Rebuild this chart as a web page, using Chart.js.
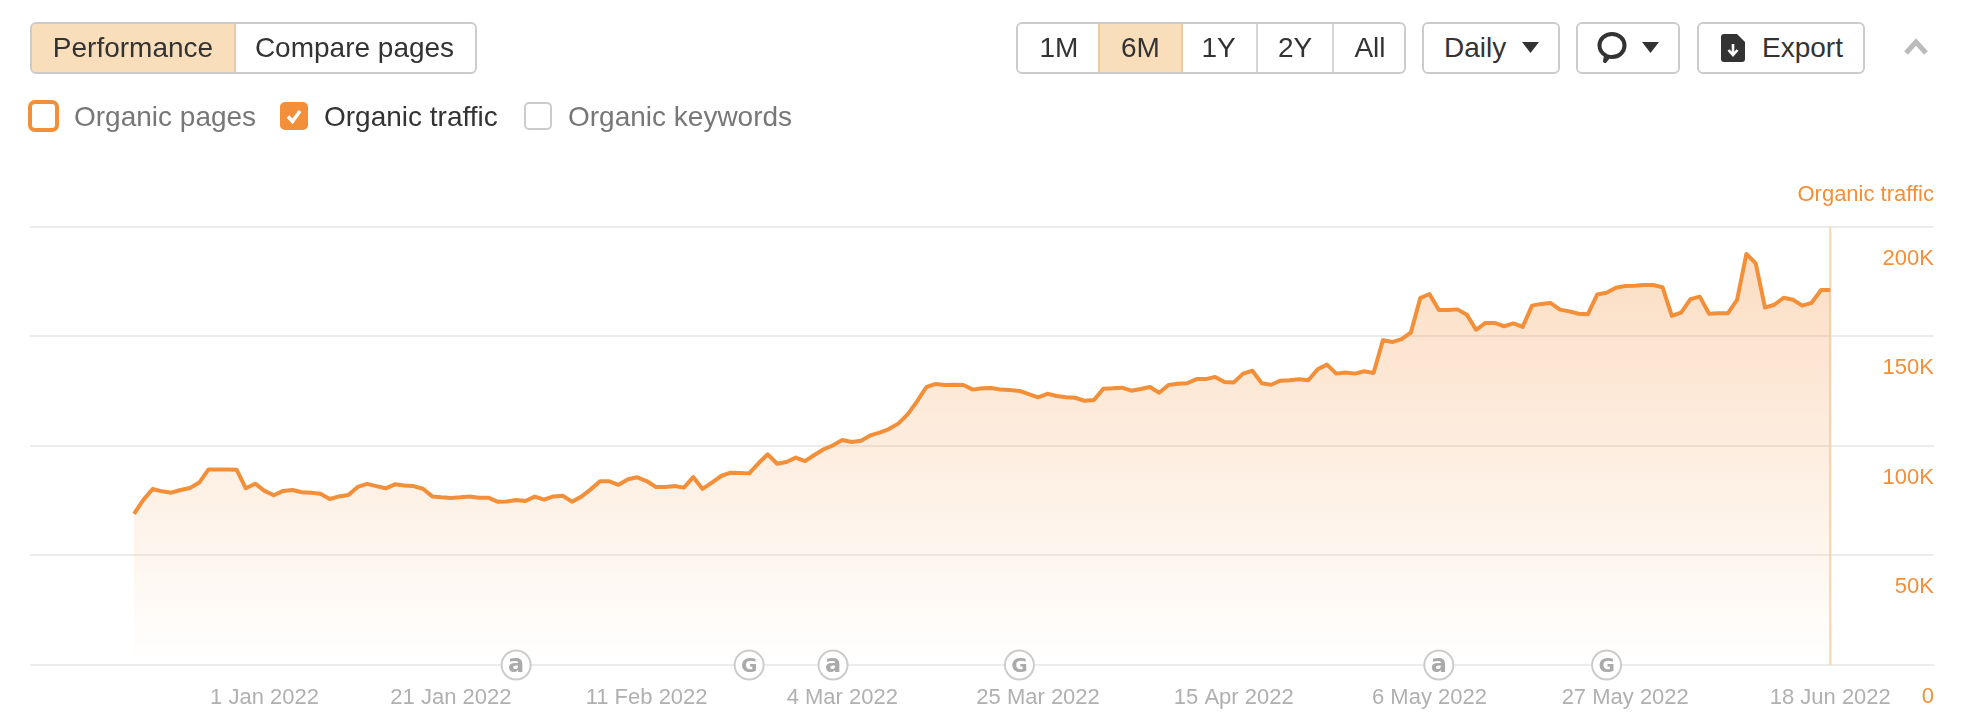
<!DOCTYPE html>
<html>
<head>
<meta charset="utf-8">
<title>Organic traffic</title>
<script src="https://cdn.jsdelivr.net/npm/chart.js@4"></script>
<style>
html, body { margin: 0; padding: 0; background: #fff; }
body { width: 1964px; height: 718px; position: relative; overflow: hidden; font-family: "Liberation Sans", Arial, sans-serif; color: #333; }
#chart { position: absolute; left: 0; top: 0; }
.btn { position: absolute; top: 22px; height: 48px; line-height: 48px; border: 2px solid #ccc; border-radius: 6px; background: #fff; font-size: 28px; text-align: center; box-sizing: content-box; }
.seg { position: absolute; top: 0; height: 48px; text-align: center; border-left: 2px solid #d6d6d6; }
.seg.first { border-left: 0; }
.seg.active { background: #f9dEbc; box-shadow: 0 0 0 2px #eccba3; border-left: 0; }
.label { position: absolute; top: 100px; height: 34px; line-height: 34px; font-size: 28px; color: #777; white-space: nowrap; }
.check { position: absolute; box-sizing: border-box; top: 102px; width: 28px; height: 28px; border-radius: 5px; border: 2px solid #ccc; background: #fff; }
svg { position: absolute; }
#axisTitle { position: absolute; right: 30px; top: 180px; font-size: 22px; line-height: 28px; color: #f28f38; white-space: nowrap; }
</style>
</head>
<body>
<canvas id="chart" width="1964" height="718"></canvas>

<div class="btn" style="left:30px;width:443px;text-align:left;overflow:hidden;">
  <div class="seg first active" style="left:0;width:202px;">Performance</div>
  <div class="seg first" style="left:202px;width:241px;">Compare pages</div>
</div>

<div class="check" style="left:28px;top:100px;width:31px;height:32px;border:4px solid #f28f38;border-radius:7px;"></div>
<div class="label" style="left:74px;">Organic pages</div>
<div class="check" style="left:280px;background:#f28f38;border-color:#f28f38;"></div>
<svg style="left:280px;top:102px;" width="28" height="28" viewBox="0 0 28 28"><path d="M8 14.5l4.5 5L20 9" fill="none" stroke="#fff" stroke-width="3.6"/></svg>
<div class="label" style="left:324px;color:#333;">Organic traffic</div>
<div class="check" style="left:524px;"></div>
<div class="label" style="left:568px;">Organic keywords</div>

<div class="btn" style="left:1016px;width:386px;overflow:hidden;">
  <div class="seg first" style="left:0;width:82px;">1M</div>
  <div class="seg first active" style="left:82px;width:81px;">6M</div>
  <div class="seg first" style="left:163px;width:75px;">1Y</div>
  <div class="seg" style="left:238px;width:74px;">2Y</div>
  <div class="seg" style="left:314px;width:72px;">All</div>
</div>

<div class="btn" style="left:1422px;width:134px;text-align:left;"><span style="margin-left:20px;">Daily</span></div>
<svg style="left:1522px;top:42px;" width="17" height="11"><path d="M0 0h17l-8.5 11z" fill="#333"/></svg>

<div class="btn" style="left:1576px;width:100px;"></div>
<svg style="left:1596px;top:31px;" width="32" height="34" viewBox="0 0 32 34"><path d="M9 30l1-5.5C5 22 3.5 18 3.5 14.5 3.5 8 9 3 16 3s12.500 5 12.500 11.500S23 26 16 26c-1.500 0-2.500 0-3.500-.5z" fill="none" stroke="#333" stroke-width="4" stroke-linejoin="round"/></svg>
<svg style="left:1642px;top:42px;" width="17" height="11"><path d="M0 0h17l-8.500 11z" fill="#333"/></svg>

<div class="btn" style="left:1697px;width:164px;text-align:left;"><span style="margin-left:63px;">Export</span></div>
<svg style="left:1721px;top:34px;" width="24" height="28" viewBox="0 0 24 28"><path d="M3 0h13l8 8v17a3 3 0 0 1-3 3H3a3 3 0 0 1-3-3V3a3 3 0 0 1 3-3z" fill="#333"/><path d="M12 10v10M7.500 16l4.500 5 4.500-5" fill="none" stroke="#fff" stroke-width="2.600"/></svg>

<svg style="left:1904px;top:38px;" width="24" height="17" viewBox="0 0 24 17"><path d="M2 15L12 4l10 11" fill="none" stroke="#bbb" stroke-width="5"/></svg>

<div id="axisTitle">Organic traffic</div>

<script>
// days counted from 1 Jan 2022, the first reading is on 18 Dec 2021
var firstDay = -14;

var traffic = [
    68900, 75300, 80300, 79200, 78600, 79800, 80700, 83200, 89200, 89200,
    89200, 89100, 80600, 82700, 79400, 77400, 79400, 79800, 78800, 78600,
    78100, 75700, 76900, 77500, 81200, 82600, 81600, 80600, 82400, 81900,
    81600, 80400, 76900, 76500, 76200, 76500, 76900, 76300, 76300, 74500,
    74600, 75300, 74800, 76800, 75400, 76900, 77200, 74500, 76800, 80100,
    83800, 83800, 82200, 84700, 85600, 83900, 81200, 81200, 81600, 80900,
    85700, 80300, 83200, 86200, 87700, 87600, 87400, 92000, 96100, 91800,
    92600, 94600, 93000, 95800, 98400, 100200, 102600, 101700, 102300, 104700,
    106000, 107600, 110100, 114300, 120100, 126700, 128200, 127700, 127800, 127700,
    125600, 126200, 126300, 125600, 125400, 125000, 123500, 122100, 123700, 122700,
    122100, 121900, 120500, 120900, 126000, 126200, 126500, 125100, 125900, 126800,
    124200, 127700, 128300, 128500, 130400, 130400, 131400, 129100, 128900, 132900,
    134200, 128500, 127800, 129700, 129900, 130300, 129900, 134900, 137000, 132900,
    133400, 132900, 134000, 133200, 148100, 147300, 148600, 151600, 167300, 169200,
    161900, 161900, 162200, 159800, 152900, 156000, 156000, 154500, 155800, 154200,
    163900, 164700, 165100, 162100, 161300, 160200, 160000, 169000, 169800, 172100,
    172900, 173000, 173300, 173300, 172300, 159200, 160700, 166900, 168000, 160200,
    160400, 160400, 166500, 187500, 183200, 163000, 164300, 167500, 166600, 163900,
    165200, 171000, 171000
];

var tickDays = [0, 20, 41, 62, 83, 104, 125, 146, 168];
var tickLabels = ['1 Jan 2022', '21 Jan 2022', '11 Feb 2022', '4 Mar 2022', '25 Mar 2022', '15 Apr 2022', '6 May 2022', '27 May 2022', '18 Jun 2022'];

var valueTicks = [0, 50000, 100000, 150000, 200000];
var valueLabels = ['0', '50K', '100K', '150K', '200K'];

var markerDays = [27, 52, 61, 81, 126, 144];
var markerLetters = ['a', 'G', 'a', 'G', 'a', 'G'];

var lastDay = 168;

var orange = '#f28f38';

var trafficPoints = traffic.map(function(v, i) {
    return { x: firstDay + i, y: v };
});

var markerPoints = markerDays.map(function(d) {
    return { x: d, y: 0 };
});

// the value labels sit under their grid line, and the letters go inside the circles
var labelPlugin = {
    id: 'labelPlugin',
    afterDraw: function(chart) {
        var ctx = chart.ctx;
        var y = chart.scales.y;
        ctx.save();
        ctx.font = '22px "Liberation Sans"';
        ctx.fillStyle = orange;
        ctx.textAlign = 'right';
        ctx.textBaseline = 'middle';
        valueTicks.forEach(function(v, i) {
            ctx.fillText(valueLabels[i], chart.chartArea.right, y.getPixelForValue(v) + 32);
        });

        ctx.textAlign = 'center';
        ctx.fillStyle = '#aaaaaa';
        chart.getDatasetMeta(2).data.forEach(function(p, i) {
            if (markerLetters[i] === 'a') {
                ctx.font = 'bold 24px "DejaVu Sans"';
                ctx.fillText('a', p.x, p.y + 1);
            } else {
                ctx.font = 'bold 20px "DejaVu Sans"';
                ctx.fillText('G', p.x, p.y + 2);
            }
        });
        ctx.restore();
    }
};

new Chart(document.getElementById('chart'), {
    type: 'line',
    data: {
        datasets: [
            {
                label: 'Organic traffic',
                data: trafficPoints,
                borderColor: orange,
                borderWidth: 4,
                borderJoinStyle: 'round',
                pointRadius: 0,
                tension: 0,
                fill: 'origin',
                backgroundColor: function(context) {
                    var area = context.chart.chartArea;
                    if (!area) {
                        return 'rgba(242,143,56,0.2)';
                    }
                    var g = context.chart.ctx.createLinearGradient(0, area.top, 0, area.bottom);
                    g.addColorStop(0, 'rgba(242,143,56,0.32)');
                    g.addColorStop(1, 'rgba(242,143,56,0)');
                    return g;
                }
            },
            {
                label: 'Last day',
                data: [{ x: lastDay, y: 0 }, { x: lastDay, y: 200000 }],
                borderColor: '#f9d5a8',
                borderWidth: 2,
                pointRadius: 0,
                fill: false
            },
            {
                label: 'Updates',
                data: markerPoints,
                showLine: false,
                clip: false,
                pointRadius: 14.5,
                pointBackgroundColor: '#fff',
                pointBorderColor: '#cccccc',
                pointBorderWidth: 2
            }
        ]
    },
    options: {
        responsive: false,
        animation: false,
        devicePixelRatio: 1,
        layout: { padding: { left: 30, right: 30, top: 226.5, bottom: 8.6 } },
        plugins: {
            legend: { display: false },
            tooltip: { enabled: false }
        },
        scales: {
            x: {
                type: 'linear',
                min: -25.16,
                max: 179.13,
                grid: { display: false },
                border: { display: false },
                afterBuildTicks: function(axis) {
                    axis.ticks = tickDays.map(function(d) {
                        return { value: d };
                    });
                },
                afterFit: function(axis) {
                    axis.height = 44.4;
                },
                ticks: {
                    autoSkip: false,
                    maxRotation: 0,
                    padding: 12,
                    color: '#b0b0b0',
                    font: { family: 'Liberation Sans', size: 22 },
                    callback: function(value) {
                        return tickLabels[tickDays.indexOf(value)];
                    }
                }
            },
            y: {
                min: 0,
                max: 200000,
                position: 'right',
                afterBuildTicks: function(axis) {
                    axis.ticks = valueTicks.map(function(v) {
                        return { value: v };
                    });
                },
                afterFit: function(axis) {
                    axis.width = 0;
                },
                grid: { color: '#ececec', lineWidth: 2, drawTicks: false },
                border: { display: false },
                ticks: { display: false }
            }
        }
    },
    plugins: [labelPlugin]
});
</script>
</body>
</html>
